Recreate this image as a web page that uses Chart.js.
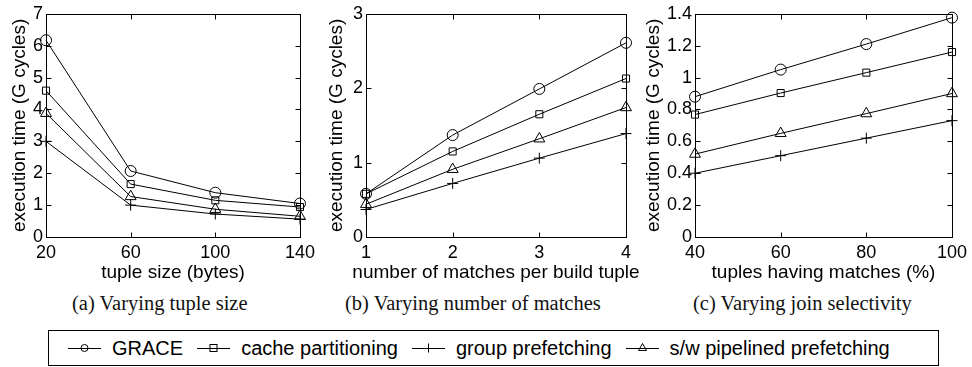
<!DOCTYPE html>
<html>
<head>
<meta charset="utf-8">
<script src="https://cdn.jsdelivr.net/npm/chart.js@4.4.1/dist/chart.umd.min.js"></script>
<style>
  body { margin: 0; width: 972px; height: 367px; background: #fff; position: relative; overflow: hidden; font-family: 'Liberation Sans', Arial, sans-serif; }
  canvas { position: absolute; top: 0; }
  .cap { position: absolute; top: 290px; font-family: 'Liberation Serif', 'Times New Roman', serif; font-size: 20.5px; line-height: 26px; color: #111; white-space: nowrap; }
  #legend { position: absolute; left: 48px; top: 330px; width: 870px; height: 34px; border: 1px solid #000; display: flex; align-items: center; font-size: 20px; color: #000; box-sizing: content-box; }
  #legend .item { display: flex; align-items: center; margin-right: 14px; white-space: nowrap; }
  #legend svg { margin-right: 11px; }
</style>
</head>
<body>
<canvas id="chartA" width="320" height="290" style="left:0px"></canvas>
<canvas id="chartB" width="330" height="290" style="left:320px"></canvas>
<canvas id="chartC" width="332" height="290" style="left:640px"></canvas>
<div class="cap" style="left:72px">(a) Varying tuple size</div>
<div class="cap" style="left:345px">(b) Varying number of matches</div>
<div class="cap" style="left:693px">(c) Varying join selectivity</div>
<div id="legend"></div>

<script>
// series (same order in every panel)
const seriesNames = ['GRACE', 'cache partitioning', 'group prefetching', 's/w pipelined prefetching'];
const seriesMarkers = ['circle', 'rect', 'cross', 'triangle'];

// (a) tuple size
const tupleSize = ['20', '60', '100', '140'];
const graceA = [6.17, 2.07, 1.39, 1.05];
const cacheA = [4.59, 1.66, 1.15, 0.94];
const groupA = [3.0, 1.0, 0.72, 0.56];
const swpA = [3.88, 1.27, 0.87, 0.65];
const yTicksA = [0, 1, 2, 3, 4, 5, 6, 7];
const yLabelsA = ['0', '1', '2', '3', '4', '5', '6', '7'];

// (b) matches per build tuple
const matches = ['1', '2', '3', '4'];
const graceB = [0.58, 1.37, 1.99, 2.61];
const cacheB = [0.58, 1.15, 1.65, 2.13];
const groupB = [0.37, 0.72, 1.06, 1.39];
const swpB = [0.44, 0.91, 1.32, 1.74];
const yTicksB = [0, 1, 2, 3];
const yLabelsB = ['0', '1', '2', '3'];

// (c) tuples having matches (%)
const selectivity = ['40', '60', '80', '100'];
const graceC = [0.88, 1.05, 1.21, 1.376];
const cacheC = [0.768, 0.903, 1.031, 1.16];
const groupC = [0.40, 0.51, 0.62, 0.73];
const swpC = [0.52, 0.65, 0.774, 0.90];
const yTicksC = [0, 0.2, 0.4, 0.6, 0.8, 1, 1.2, 1.4];
const yLabelsC = ['0', '0.2', '0.4', '0.6', '0.8', '1', '1.2', '1.4'];

const FONT = "'Liberation Sans', Arial, sans-serif";

// MATLAB-like box with inward ticks on all four sides
const frameTicks = {
    id: 'frameTicks',
    afterDraw(chart) {
        const { ctx, chartArea: a, scales: { x, y } } = chart;
        const L = Math.round(a.left) + 0.5, R = Math.round(a.right) + 0.5;
        const T = Math.round(a.top) + 0.5, B = Math.round(a.bottom) + 0.5;
        ctx.save();
        ctx.strokeStyle = '#000';
        ctx.lineWidth = 1;
        ctx.strokeRect(L, T, R - L, B - T);
        ctx.beginPath();
        x.ticks.forEach((t, i) => {
            const px = Math.round(x.getPixelForTick(i)) + 0.5;
            ctx.moveTo(px, B); ctx.lineTo(px, B - 5);
            ctx.moveTo(px, T); ctx.lineTo(px, T + 5);
        });
        y.ticks.forEach(t => {
            const py = Math.round(y.getPixelForValue(t.value)) + 0.5;
            ctx.moveTo(L, py); ctx.lineTo(L + 5, py);
            ctx.moveTo(R, py); ctx.lineTo(R - 5, py);
        });
        ctx.stroke();
        ctx.restore();
    }
};

// x axis title, drawn without the width squeeze Chart.js applies
const xTitle = {
    id: 'xTitle',
    afterDraw(chart, args, opts) {
        const { ctx, chartArea: a } = chart;
        ctx.save();
        ctx.font = '19px ' + FONT;
        ctx.fillStyle = '#000';
        ctx.textAlign = 'center';
        ctx.textBaseline = 'middle';
        ctx.fillText(opts.text, (a.left + a.right) / 2, a.bottom + 36);
        ctx.restore();
    }
};

function markerRadius(style) {
    if (style === 'circle') return 5.5;
    if (style === 'rect') return 5;
    if (style === 'triangle') return 6.3;
    return 5.5;
}

function makePanel(id, labels, series, yTicks, yLabels, xText, yWidth, yTitlePad, padRight) {
    new Chart(document.getElementById(id), {
        type: 'line',
        data: {
            labels: labels,
            datasets: series.map((vals, i) => ({
                label: seriesNames[i],
                data: vals,
                borderColor: '#000',
                borderWidth: 1,
                backgroundColor: 'rgba(0,0,0,0)',
                pointStyle: seriesMarkers[i],
                pointRadius: markerRadius(seriesMarkers[i]),
                pointBorderColor: '#000',
                pointBorderWidth: 1,
                pointBackgroundColor: 'rgba(0,0,0,0)',
                tension: 0,
                clip: false
            }))
        },
        options: {
            responsive: false,
            animation: false,
            events: [],
            layout: { padding: { top: 10, right: padRight, left: 0, bottom: 0 } },
            plugins: { legend: { display: false }, tooltip: { enabled: false }, xTitle: { text: xText } },
            scales: {
                x: {
                    type: 'category',
                    offset: false,
                    grid: { display: false, drawTicks: false },
                    border: { display: false },
                    ticks: { color: '#000', font: { family: FONT, size: 18 }, padding: 5, maxRotation: 0, autoSkip: false },
                    afterFit(s) { s.height = 53; }
                },
                y: {
                    min: yTicks[0],
                    max: yTicks[yTicks.length - 1],
                    grid: { display: false, drawTicks: false },
                    border: { display: false },
                    afterBuildTicks(s) { s.ticks = yTicks.map(v => ({ value: v })); },
                    ticks: { color: '#000', font: { family: FONT, size: 18 }, padding: 3, callback: (v, i) => yLabels[i] },
                    title: { display: true, text: 'execution time (G cycles)', color: '#000', font: { family: FONT, size: 19, lineHeight: 1 }, padding: { top: yTitlePad, bottom: 0 } },
                    afterFit(s) { s.width = yWidth; }
                }
            }
        },
        plugins: [frameTicks, xTitle]
    });
}

makePanel('chartA', tupleSize, [graceA, cacheA, groupA, swpA], yTicksA, yLabelsA, 'tuple size (bytes)', 46, 10.5, 14);
makePanel('chartB', matches, [graceB, cacheB, groupB, swpB], yTicksB, yLabelsB, 'number of matches per build tuple', 46, 7.5, 24);
makePanel('chartC', selectivity, [graceC, cacheC, groupC, swpC], yTicksC, yLabelsC, 'tuples having matches (%)', 55, 4.5, 17);

// legend (line + marker drawn small, as in the figure)
function markerSvg(style) {
    let m = '';
    if (style === 'circle') m = '<circle cx="16.5" cy="8" r="3.5" fill="none" stroke="#000" stroke-width="1"/>';
    if (style === 'rect') m = '<rect x="13" y="4.5" width="7" height="7" fill="none" stroke="#000" stroke-width="1"/>';
    if (style === 'cross') m = '<path d="M16.5 3.5 V12.5" stroke="#000" stroke-width="1"/>';
    if (style === 'triangle') m = '<path d="M16.5 3.5 L20.5 10.5 L12.5 10.5 Z" fill="none" stroke="#000" stroke-width="1"/>';
    return '<svg width="33" height="16" viewBox="0 0 33 16"><path d="M0 8.5 H33" stroke="#000" stroke-width="1"/>' + m + '</svg>';
}
const legendEl = document.getElementById('legend');
legendEl.style.paddingLeft = '19px';
seriesNames.forEach((name, i) => {
    const item = document.createElement('div');
    item.className = 'item';
    item.innerHTML = markerSvg(seriesMarkers[i]) + '<span>' + name + '</span>';
    legendEl.appendChild(item);
});
</script>
</body>
</html>
